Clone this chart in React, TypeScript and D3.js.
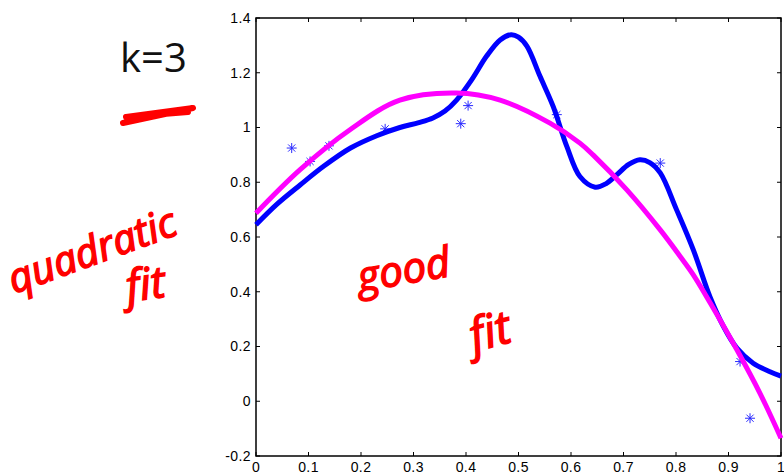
import React from "react";
import * as d3 from "d3";

// data points (stars)
const pointX = [0.068, 0.103, 0.139, 0.246, 0.39, 0.404, 0.573, 0.77, 0.922, 0.941];
const pointY = [0.925, 0.876, 0.933, 0.995, 1.014, 1.08, 1.047, 0.87, 0.145, -0.062];

// k=3 fit (blue, wiggly)
const blueX = [0, 0.04, 0.084, 0.13, 0.18, 0.23, 0.274, 0.31, 0.337, 0.36, 0.382, 0.411, 0.439, 0.465, 0.486, 0.5, 0.516, 0.541, 0.566, 0.592, 0.617, 0.646, 0.667, 0.687, 0.71, 0.731, 0.75, 0.77, 0.801, 0.833, 0.865, 0.89, 0.916, 0.947, 0.979, 1.0];
const blueY = [0.645, 0.72, 0.79, 0.86, 0.925, 0.97, 1.0, 1.018, 1.035, 1.06, 1.1, 1.175, 1.26, 1.32, 1.339, 1.33, 1.297, 1.187, 1.077, 0.931, 0.821, 0.782, 0.795, 0.827, 0.865, 0.882, 0.872, 0.834, 0.7, 0.553, 0.38, 0.275, 0.194, 0.139, 0.108, 0.092];

// quadratic fit (magenta)
const magX = [0, 0.084, 0.179, 0.274, 0.382, 0.465, 0.56, 0.617, 0.642, 0.706, 0.77, 0.808, 0.833, 0.865, 0.916, 0.96, 1.0];
const magY = [0.687, 0.846, 0.992, 1.1, 1.126, 1.1, 1.016, 0.943, 0.9, 0.773, 0.626, 0.529, 0.462, 0.36, 0.188, 0.029, -0.135];

const xTicks = [0, 0.1, 0.2, 0.3, 0.4, 0.5, 0.6, 0.7, 0.8, 0.9, 1];
const yTicks = [-0.2, 0, 0.2, 0.4, 0.6, 0.8, 1, 1.2, 1.4];

const W = 784;
const H = 474;
const left = 256, right = 781, top = 18, bottom = 456;

export default function App() {
  const x = d3.scaleLinear().domain([0, 1]).range([left, right]);
  const y = d3.scaleLinear().domain([-0.2, 1.4]).range([bottom, top]);

  const line = d3.line<[number, number]>()
    .x(d => x(d[0]))
    .y(d => y(d[1]))
    .curve(d3.curveCatmullRom.alpha(0.5));

  const blue = line(blueX.map((v, i) => [v, blueY[i]]));
  const mag = line(magX.map((v, i) => [v, magY[i]]));

  const fmt = (v: number) => String(Math.round(v * 10) / 10);
  const tick = 4;
  const font = "'Liberation Sans', Arial, Helvetica, sans-serif";
  const hand = "'Open Sans', 'DejaVu Sans', sans-serif";

  const star = (cx: number, cy: number, i: number) => {
    const r = 5;
    const d = r * 0.72;
    return (
      <g key={i} stroke="#2a2aff" strokeWidth={1}>
        <line x1={cx - r} y1={cy} x2={cx + r} y2={cy} />
        <line x1={cx} y1={cy - r} x2={cx} y2={cy + r} />
        <line x1={cx - d} y1={cy - d} x2={cx + d} y2={cy + d} />
        <line x1={cx - d} y1={cy + d} x2={cx + d} y2={cy - d} />
      </g>
    );
  };

  return (
    <svg width={W} height={H} style={{ position: "absolute", left: 0, top: 0, background: "#fff" }}>
      {/* axes box */}
      <rect x={left} y={top} width={right - left} height={bottom - top} fill="none" stroke="#000" strokeWidth={1.5} />
      {xTicks.map(t => (
        <g key={"x" + t} stroke="#000" strokeWidth={1}>
          <line x1={x(t)} y1={bottom} x2={x(t)} y2={bottom - tick} />
          <line x1={x(t)} y1={top} x2={x(t)} y2={top + tick} />
        </g>
      ))}
      {yTicks.map(t => (
        <g key={"y" + t} stroke="#000" strokeWidth={1}>
          <line x1={left} y1={y(t)} x2={left + tick} y2={y(t)} />
          <line x1={right} y1={y(t)} x2={right - tick} y2={y(t)} />
        </g>
      ))}
      {xTicks.map(t => (
        <text key={"xl" + t} x={x(t)} y={472} textAnchor="middle" fontFamily={font} fontSize={14} fill="#000" letterSpacing={0.4}>
          {fmt(t)}
        </text>
      ))}
      {yTicks.map(t => (
        <text key={"yl" + t} x={left - 5} y={y(t)} dy="0.35em" textAnchor="end" fontFamily={font} fontSize={14} fill="#000" letterSpacing={0.4}>
          {fmt(t)}
        </text>
      ))}

      {/* data */}
      {pointX.map((v, i) => star(x(v), y(pointY[i]), i))}
      <path d={blue || ""} fill="none" stroke="#0000ff" strokeWidth={5} strokeLinejoin="round" />
      <path d={mag || ""} fill="none" stroke="#ff00ff" strokeWidth={5} strokeLinejoin="round" />

      {/* annotations */}
      <text x={120} y={72} fontFamily={hand} fontSize={40} fill="#111">k=3</text>
      <path d="M123,123 L193,108 L126,117 L188,112" fill="none" stroke="#ff0000" strokeWidth={6} strokeLinecap="round" strokeLinejoin="round" />
      <g fill="#ff0000" stroke="#ff0000" strokeWidth={1.5} fontFamily={hand} fontStyle="italic">
        <text transform="translate(14,294) rotate(-20)" fontSize={41}>quadratic</text>
        <text transform="translate(128,302) rotate(-8)" fontSize={44}>fit</text>
        <text transform="translate(360,292) rotate(-10)" fontSize={42}>good</text>
        <text transform="translate(474,352) rotate(-15)" fontSize={46}>fit</text>
      </g>
    </svg>
  );
}
